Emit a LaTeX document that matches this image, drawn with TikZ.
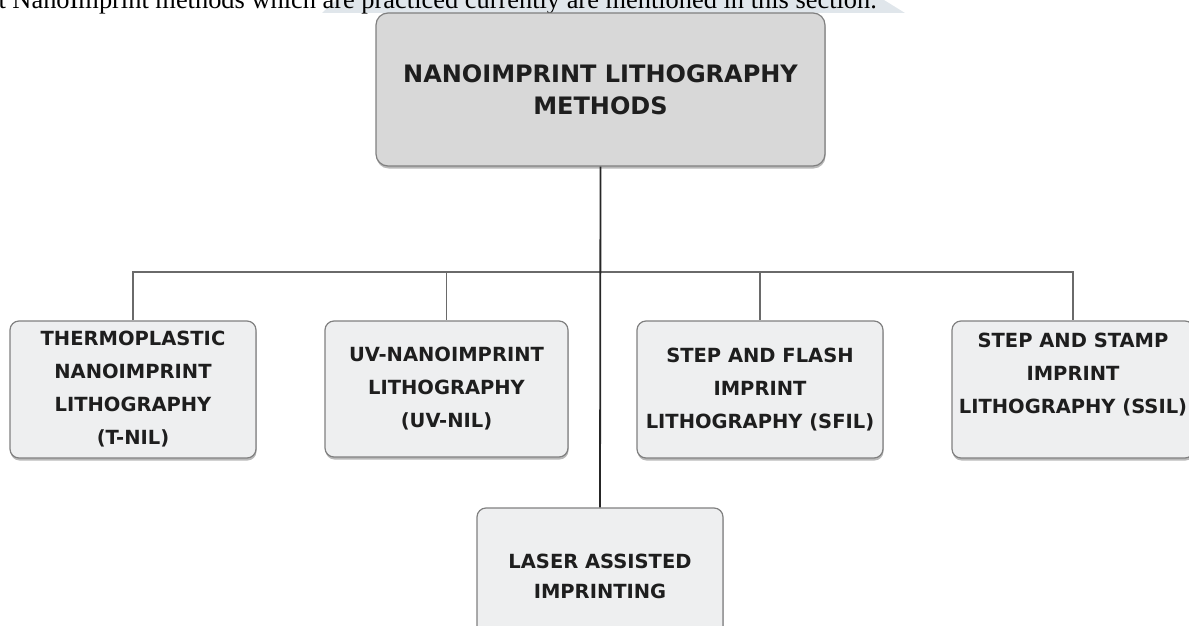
\documentclass[tikz,border=0pt]{standalone}
\usepackage{fontspec}
\setmainfont{Liberation Serif}
\newfontfamily\boxfont{DejaVu Sans}
\usetikzlibrary{shadows}
\definecolor{boxfill}{HTML}{EEEFF0}
\definecolor{topfill}{HTML}{D8D8D8}
\definecolor{boxedge}{HTML}{808080}
\definecolor{linegray}{HTML}{6A6A6A}
\definecolor{txt}{HTML}{1E1E1E}
\definecolor{wmark}{HTML}{E0E6EB}
\tikzset{
  methodbox/.style={draw=boxedge, line width=1.2pt, fill=boxfill, rounded corners=9pt,
    minimum width=246pt, minimum height=137pt, inner sep=0pt, align=center,
    text=txt, font=\boxfont\bfseries\fontsize{19.5}{33}\selectfont,
    drop shadow={shadow xshift=0.5pt, shadow yshift=-2.5pt, opacity=0.55, fill=gray}},
  headbox/.style={methodbox, fill=topfill, rounded corners=12pt,
    minimum width=449pt, minimum height=153pt,
    font=\boxfont\bfseries\fontsize{24}{32}\selectfont},
  branch/.style={draw=linegray, line width=1.4pt},
  trunk/.style={draw=black!85, line width=1.8pt},
  bodytext/.style={inner sep=0pt, font=\fontsize{26.4}{28}\selectfont, text=black}
}
\begin{document}
\begin{tikzpicture}[x=1pt,y=-1pt]
\useasboundingbox (0,0) rectangle (1189,626);
\clip (0,0) rectangle (1189,626);
\fill[wmark] (322,13) -- (336,0) -- (884,0) -- (905,13) -- cycle;
\node[bodytext, anchor=base east] (intro) at (877,9) {at NanoImprint methods which are practiced currently are mentioned in this section.};

\node[headbox] (top) at (600.5,89.5) {NANOIMPRINT LITHOGRAPHY\\METHODS};
\node[methodbox] (tnil) at (133,389.5) {THERMOPLASTIC\\NANOIMPRINT\\LITHOGRAPHY\\(T-NIL)};
\node[methodbox, minimum width=243pt, minimum height=136pt] (uv) at (446.5,389) {UV-NANOIMPRINT\\LITHOGRAPHY\\(UV-NIL)};
\node[methodbox] (sfil) at (760,389.5) {STEP AND FLASH\\IMPRINT\\LITHOGRAPHY (SFIL)};
\node[methodbox, minimum width=242pt] (ssil) at (1073,389.5) {STEP AND STAMP\\IMPRINT\\LITHOGRAPHY (SSIL)\\\mbox{}};
\node[methodbox, font=\boxfont\bfseries\fontsize{19.5}{30}\selectfont] (laser) at (600,576.5) {LASER ASSISTED\\IMPRINTING};

\coordinate (bus) at (600,272);
\path[branch] (tnil.north) -- (tnil.north |- bus) -- (ssil.north |- bus) -- (ssil.north);
\path[branch] (uv.north |- bus) -- (uv.north);
\path[branch] (sfil.north |- bus) -- (sfil.north);
\path[trunk] (top.south) -- (laser.north);
\end{tikzpicture}
\end{document}
